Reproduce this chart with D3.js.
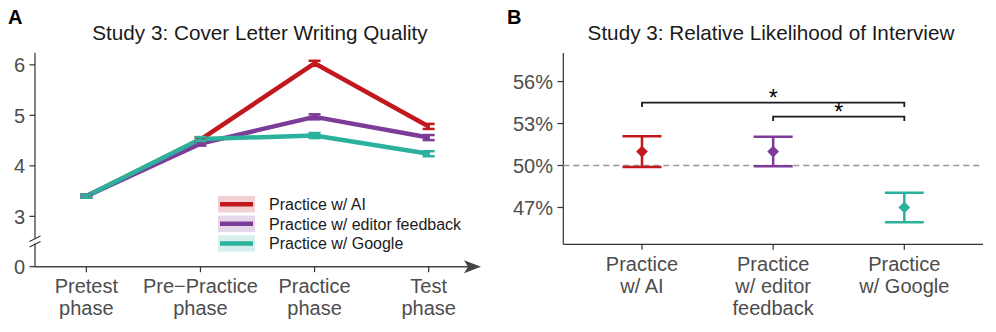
<!DOCTYPE html>
<html>
<head>
<meta charset="utf-8">
<script src="https://cdn.jsdelivr.net/npm/d3@7"></script>
<style>
  html, body { margin: 0; padding: 0; background: #fff; }
  svg { display: block; font-family: "Liberation Sans", Arial, sans-serif; }
  .tick-label { fill: #4d4d4d; font-size: 20px; }
  .title { fill: #1a1a1a; font-size: 20.7px; }
  .panel-tag { fill: #000; font-size: 20px; font-weight: bold; }
  .legend-text { fill: #1a1a1a; font-size: 16px; }
</style>
</head>
<body>
<div id="chart"></div>
<script>
// Panel A — writing quality by phase
const phases = ["Pretest\nphase", "Pre\u2212Practice\nphase", "Practice\nphase", "Test\nphase"];
const groups = ["Practice w/ AI", "Practice w/ editor feedback", "Practice w/ Google"];
const groupColors = ["#c1171d", "#7d3c98", "#2bb19e"];
const qualityAI     = [3.40, 4.52, 6.03, 4.78];
const qualityEditor = [3.40, 4.44, 4.97, 4.56];
const qualityGoogle = [3.40, 4.53, 4.60, 4.24];
const qualitySE     = [0.03, 0.04, 0.05, 0.05];
const qualityTicks  = [0, 3, 4, 5, 6];

// Panel B — relative likelihood of interview (%)
const interviewLabels = ["Practice\nw/ AI", "Practice\nw/ editor\nfeedback", "Practice\nw/ Google"];
const interviewMean  = [51.0, 51.0, 47.0];
const interviewLow   = [49.9, 49.95, 45.95];
const interviewHigh  = [52.1, 52.05, 48.05];
const interviewTicks = [47, 50, 53, 56];
const sigPairs = [[0, 2, 54.5], [1, 2, 53.5]];

const W = 996, H = 332;
const svg = d3.select("#chart").append("svg").attr("width", W).attr("height", H);
const axisColor = "#333";

// ---------------- Panel A ----------------
const gA = svg.append("g");
gA.append("text").attr("class", "panel-tag").attr("x", 8).attr("y", 24).text("A");
gA.append("text").attr("class", "title").attr("x", 260).attr("y", 40)
  .attr("text-anchor", "middle").text("Study 3: Cover Letter Writing Quality");

const xA = d3.scalePoint().domain(phases).range([35, 480]).padding(0.45);
// broken axis: 0 sits just below the break, 2.5..6.24 is the real range
const yA = d3.scaleLinear().domain([0, 2.5, 6.24]).range([266.7, 241.6, 52.7]);

// y axis with break
gA.append("line").attr("x1", 35).attr("x2", 35).attr("y1", yA(6.24)).attr("y2", 238.5)
  .attr("stroke", axisColor).attr("stroke-width", 1.2);
gA.append("line").attr("x1", 35).attr("x2", 35).attr("y1", 243.5).attr("y2", yA(0))
  .attr("stroke", axisColor).attr("stroke-width", 1.2);
[0, 5.5].forEach(off => {
  gA.append("line").attr("x1", 29.5).attr("y1", 241.5 + off).attr("x2", 40.5).attr("y2", 236 + off)
    .attr("stroke", axisColor).attr("stroke-width", 1.2);
});
qualityTicks.forEach(t => {
  gA.append("line").attr("x1", 29.5).attr("x2", 35).attr("y1", yA(t)).attr("y2", yA(t))
    .attr("stroke", axisColor).attr("stroke-width", 1.2);
  gA.append("text").attr("class", "tick-label").attr("x", 25).attr("y", yA(t))
    .attr("dy", "0.36em").attr("text-anchor", "end").text(t);
});

// x axis with arrow
gA.append("line").attr("x1", 35).attr("x2", 476).attr("y1", yA(0)).attr("y2", yA(0))
  .attr("stroke", "#444").attr("stroke-width", 1.6);
gA.append("path")
  .attr("d", `M481,${yA(0)} L464,${yA(0) - 6.5} L468,${yA(0)} L464,${yA(0) + 6.5} Z`)
  .attr("fill", "#444");
phases.forEach(p => {
  gA.append("line").attr("x1", xA(p)).attr("x2", xA(p)).attr("y1", yA(0)).attr("y2", yA(0) + 5.5)
    .attr("stroke", axisColor).attr("stroke-width", 1.2);
  const t = gA.append("text").attr("class", "tick-label").attr("text-anchor", "middle");
  p.split("\n").forEach((s, i) => {
    t.append("tspan").attr("x", xA(p)).attr("y", 293 + i * 22).text(s);
  });
});

const seriesA = [qualityAI, qualityEditor, qualityGoogle].map((vals, gi) => ({
  name: groups[gi],
  color: groupColors[gi],
  points: vals.map((v, i) => ({ phase: phases[i], value: v, se: qualitySE[i] }))
}));

const line = d3.line().x(d => xA(d.phase)).y(d => yA(d.value));
gA.append("g").selectAll("path").data(seriesA).join("path")
  .attr("d", d => line(d.points))
  .attr("fill", "none")
  .attr("stroke", d => d.color)
  .attr("stroke-width", 4.5)
  .attr("stroke-linejoin", "round");

seriesA.forEach(s => {
  const eg = gA.append("g").attr("stroke", s.color).attr("stroke-width", 2.5);
  s.points.forEach(p => {
    const x = xA(p.phase), y0 = yA(p.value - p.se), y1 = yA(p.value + p.se);
    eg.append("line").attr("x1", x).attr("x2", x).attr("y1", y0).attr("y2", y1);
    eg.append("line").attr("x1", x - 6).attr("x2", x + 6).attr("y1", y0).attr("y2", y0);
    eg.append("line").attr("x1", x - 6).attr("x2", x + 6).attr("y1", y1).attr("y2", y1);
  });
});

// legend
const legend = gA.append("g").attr("transform", "translate(218,196)");
groups.forEach((g, i) => {
  const row = legend.append("g").attr("transform", `translate(0,${i * 19.6})`);
  row.append("rect").attr("width", 37).attr("height", 16.5)
    .attr("fill", groupColors[i]).attr("fill-opacity", 0.2);
  row.append("line").attr("x1", 2).attr("x2", 35).attr("y1", 8.2).attr("y2", 8.2)
    .attr("stroke", groupColors[i]).attr("stroke-width", 4.5);
  row.append("text").attr("class", "legend-text").attr("x", 51).attr("y", 8.2)
    .attr("dy", "0.36em").text(g);
});

// ---------------- Panel B ----------------
const gB = svg.append("g");
gB.append("text").attr("class", "panel-tag").attr("x", 507).attr("y", 24).text("B");
gB.append("text").attr("class", "title").attr("x", 771).attr("y", 40)
  .attr("text-anchor", "middle").text("Study 3: Relative Likelihood of Interview");

const xB = d3.scalePoint().domain(interviewLabels).range([563.3, 983]).padding(0.6);
const yB = d3.scaleLinear().domain([44.37, 58.04]).range([244.3, 53]);

gB.append("line").attr("x1", 563.3).attr("x2", 563.3).attr("y1", yB.range()[1]).attr("y2", yB.range()[0])
  .attr("stroke", axisColor).attr("stroke-width", 1.2);
gB.append("line").attr("x1", 563.3).attr("x2", 983).attr("y1", yB.range()[0]).attr("y2", yB.range()[0])
  .attr("stroke", axisColor).attr("stroke-width", 1.2);
interviewTicks.forEach(t => {
  gB.append("line").attr("x1", 557.5).attr("x2", 563.3).attr("y1", yB(t)).attr("y2", yB(t))
    .attr("stroke", axisColor).attr("stroke-width", 1.2);
  gB.append("text").attr("class", "tick-label").attr("x", 553).attr("y", yB(t))
    .attr("dy", "0.36em").attr("text-anchor", "end").text(t + "%");
});
interviewLabels.forEach(c => {
  gB.append("line").attr("x1", xB(c)).attr("x2", xB(c)).attr("y1", yB.range()[0]).attr("y2", yB.range()[0] + 5.5)
    .attr("stroke", axisColor).attr("stroke-width", 1.2);
  const t = gB.append("text").attr("class", "tick-label").attr("text-anchor", "middle");
  c.split("\n").forEach((s, i) => {
    t.append("tspan").attr("x", xB(c)).attr("y", 271 + i * 22).text(s);
  });
});

// reference line at 50%
gB.append("line").attr("x1", 563.3).attr("x2", 983).attr("y1", yB(50)).attr("y2", yB(50))
  .attr("stroke", "#999").attr("stroke-width", 1.3).attr("stroke-dasharray", "6,4");

interviewLabels.forEach((c, i) => {
  const x = xB(c), col = groupColors[i];
  const eg = gB.append("g").attr("stroke", col).attr("stroke-width", 2.5);
  eg.append("line").attr("x1", x).attr("x2", x).attr("y1", yB(interviewLow[i])).attr("y2", yB(interviewHigh[i]));
  eg.append("line").attr("x1", x - 19.5).attr("x2", x + 19.5).attr("y1", yB(interviewLow[i])).attr("y2", yB(interviewLow[i]));
  eg.append("line").attr("x1", x - 19.5).attr("x2", x + 19.5).attr("y1", yB(interviewHigh[i])).attr("y2", yB(interviewHigh[i]));
  gB.append("path").attr("d", d3.symbol(d3.symbolDiamond2, 88)())
    .attr("transform", `translate(${x},${yB(interviewMean[i])})`)
    .attr("fill", col);
});

// significance brackets
sigPairs.forEach(([a, b, level]) => {
  const x1 = xB(interviewLabels[a]), x2 = xB(interviewLabels[b]);
  const y = yB(level), yEnd = yB(level - 0.32);
  gB.append("path").attr("d", `M${x1},${yEnd} L${x1},${y} L${x2},${y} L${x2},${yEnd}`)
    .attr("fill", "none").attr("stroke", "#1a1a1a").attr("stroke-width", 1.8);
  gB.append("text").attr("x", (x1 + x2) / 2).attr("y", y + 3)
    .attr("text-anchor", "middle").attr("font-size", 23).attr("fill", "#000").text("*");
});
</script>
</body>
</html>
